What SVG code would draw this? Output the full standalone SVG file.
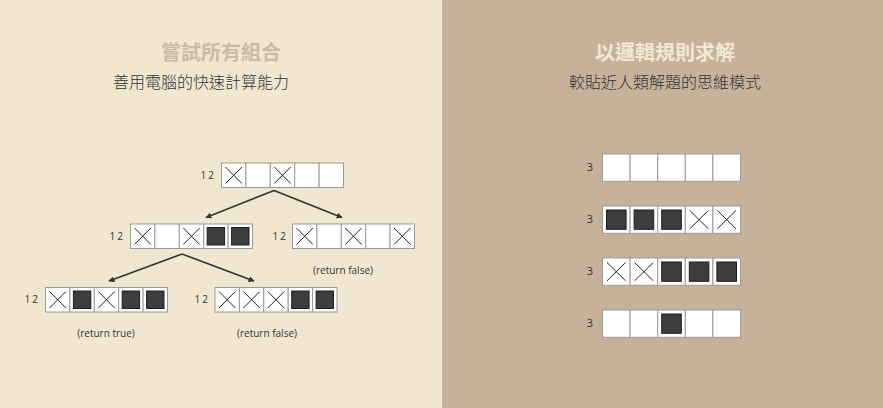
<svg xmlns="http://www.w3.org/2000/svg" xmlns:xlink="http://www.w3.org/1999/xlink" width="883" height="408" viewBox="0 0 883 408">
<style>
.title{font-family:"Noto Sans CJK TC","Noto Sans CJK SC",sans-serif;font-size:20px;font-weight:bold;text-anchor:middle}
.sub{font-family:"Noto Sans CJK TC","Noto Sans CJK SC",sans-serif;font-size:16px;font-weight:300;fill:#333;text-anchor:middle}
.num{font-family:"Open Sans","DejaVu Sans",sans-serif;font-size:10px;fill:#333;letter-spacing:2px;text-anchor:end}
.num3{font-family:"Open Sans","DejaVu Sans",sans-serif;font-size:11px;fill:#333;text-anchor:end}
.ret{font-family:"Open Sans","DejaVu Sans",sans-serif;font-size:10px;fill:#333;text-anchor:middle}
.cell{fill:#fff;stroke:#9a9a9a;stroke-width:1}
.xx{stroke:#222;stroke-width:1;fill:none}
.ff{fill:#3d3d3d;stroke:#1e1e1e;stroke-width:1}
.arr{stroke:#333;stroke-width:1.6;fill:none;marker-end:url(#ah)}
</style>
<defs>
<marker id="ah" viewBox="0 0 10 10" refX="9" refY="5" markerWidth="6" markerHeight="6" orient="auto" markerUnits="userSpaceOnUse"><path d="M0,0 L10,5 L0,10 Z" fill="#333"/></marker>
<g id="e"><rect class="cell" width="24.4" height="24.5"/></g>
<g id="x"><rect class="cell" width="24.4" height="24.5"/><path class="xx" d="M4,4 L20.4,20.5 M20.4,4 L4,20.5"/></g>
<g id="f"><rect class="cell" width="24.4" height="24.5"/><rect class="ff" x="3.5" y="3.5" width="17.4" height="17.5"/></g>
<g id="E"><rect class="cell" width="27.6" height="27.3"/></g>
<g id="X"><rect class="cell" width="27.6" height="27.3"/><path class="xx" d="M4.5,4.5 L23.1,22.8 M23.1,4.5 L4.5,22.8"/></g>
<g id="F"><rect class="cell" width="27.6" height="27.3"/><rect class="ff" x="4" y="4" width="19.6" height="19.3"/></g>
</defs>
<rect x="0" y="0" width="442" height="408" fill="#f1e6d0"/>
<rect x="442" y="0" width="441" height="408" fill="#c6b29a"/>
<g id="left-heading">
<text class="title" x="221" y="60" fill="#cabaa6">嘗試所有組合</text>
<text class="sub" x="201" y="88">善用電腦的快速計算能力</text>
</g>
<g id="right-heading">
<text class="title" x="665" y="60" fill="#f2e8d4">以邏輯規則求解</text>
<text class="sub" x="665" y="88">較貼近人類解題的思維模式</text>
</g>
<g id="connectors">
<path class="arr" d="M274,190.5 L206,217.5"/>
<path class="arr" d="M274,190.5 L342,217.5"/>
<path class="arr" d="M182,254 L109,281"/>
<path class="arr" d="M182,254 L254,281"/>
</g>
<g id="node-top">
<text class="num" x="216" y="179">12</text>
<use href="#x" x="221.5" y="163"/><use href="#e" x="245.9" y="163"/><use href="#x" x="270.3" y="163"/><use href="#e" x="294.7" y="163"/><use href="#e" x="319.1" y="163"/>
</g>
<g id="node-mid-left">
<text class="num" x="125" y="240">12</text>
<use href="#x" x="130.5" y="224"/><use href="#e" x="154.9" y="224"/><use href="#x" x="179.3" y="224"/><use href="#f" x="203.7" y="224"/><use href="#f" x="228.1" y="224"/>
</g>
<g id="node-mid-right">
<text class="num" x="288" y="240">12</text>
<use href="#x" x="292.5" y="224"/><use href="#e" x="316.9" y="224"/><use href="#x" x="341.3" y="224"/><use href="#e" x="365.7" y="224"/><use href="#x" x="390.1" y="224"/>
<text class="ret" x="343" y="274">(return false)</text>
</g>
<g id="node-bottom-left">
<text class="num" x="40" y="303">12</text>
<use href="#x" x="45.5" y="287.5"/><use href="#f" x="69.9" y="287.5"/><use href="#x" x="94.3" y="287.5"/><use href="#f" x="118.7" y="287.5"/><use href="#f" x="143.1" y="287.5"/>
<text class="ret" x="106" y="337">(return true)</text>
</g>
<g id="node-bottom-right">
<text class="num" x="210" y="303">12</text>
<use href="#x" x="215" y="287.5"/><use href="#x" x="239.4" y="287.5"/><use href="#x" x="263.8" y="287.5"/><use href="#f" x="288.2" y="287.5"/><use href="#f" x="312.6" y="287.5"/>
<text class="ret" x="267" y="337">(return false)</text>
</g>
<g id="rule-row-1">
<text class="num3" x="593" y="171">3</text>
<use href="#E" x="602.5" y="154"/><use href="#E" x="630.1" y="154"/><use href="#E" x="657.7" y="154"/><use href="#E" x="685.3" y="154"/><use href="#E" x="712.9" y="154"/>
</g>
<g id="rule-row-2">
<text class="num3" x="593" y="223">3</text>
<use href="#F" x="602.5" y="206"/><use href="#F" x="630.1" y="206"/><use href="#F" x="657.7" y="206"/><use href="#X" x="685.3" y="206"/><use href="#X" x="712.9" y="206"/>
</g>
<g id="rule-row-3">
<text class="num3" x="593" y="275">3</text>
<use href="#X" x="602.5" y="258"/><use href="#X" x="630.1" y="258"/><use href="#F" x="657.7" y="258"/><use href="#F" x="685.3" y="258"/><use href="#F" x="712.9" y="258"/>
</g>
<g id="rule-row-4">
<text class="num3" x="593" y="327">3</text>
<use href="#E" x="602.5" y="310"/><use href="#E" x="630.1" y="310"/><use href="#F" x="657.7" y="310"/><use href="#E" x="685.3" y="310"/><use href="#E" x="712.9" y="310"/>
</g>
</svg>
